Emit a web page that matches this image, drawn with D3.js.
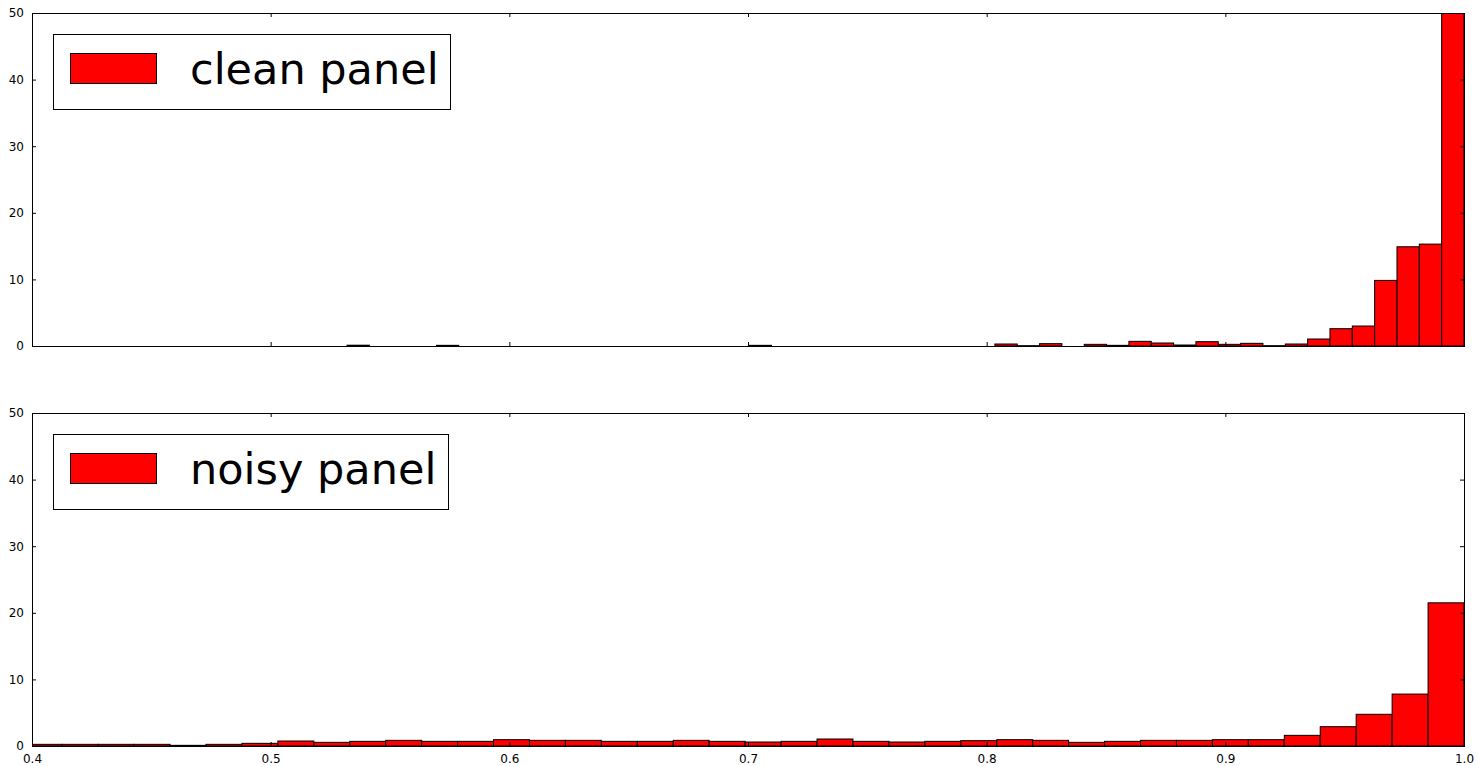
<!DOCTYPE html>
<html>
<head>
<meta charset="utf-8">
<script src="https://cdn.jsdelivr.net/npm/d3@7"></script>
<style>
  body { margin: 0; background: #fff; }
  svg { display: block; font-family: "DejaVu Sans", sans-serif; }
</style>
</head>
<body>
<svg id="chart" width="1479" height="766"></svg>
<script>
// ---- data ----
const xDomain = [0.4, 1.0];
const yDomain = [0, 50];
const xTicks = [0.4, 0.5, 0.6, 0.7, 0.8, 0.9, 1.0];
const yTicks = [0, 10, 20, 30, 40, 50];

// clean panel histogram: 50 bins from 0.532 to 1.0
const cleanStart = 0.532;
const cleanWidth = 0.00936;
const cleanValues = [
  0.12, 0, 0, 0, 0.1, 0, 0, 0, 0, 0,
  0, 0, 0, 0, 0, 0, 0, 0, 0.1, 0,
  0, 0, 0, 0, 0, 0, 0, 0, 0, 0.3,
  0.05, 0.35, 0, 0.25, 0.1, 0.7, 0.45, 0.15, 0.65, 0.25,
  0.4, 0.05, 0.3, 1.05, 2.6, 3.0, 9.85, 14.9, 15.3, 55
];

// noisy panel histogram: 40 visible bins ending at 1.0
const noisyStart = 0.3976;
const noisyWidth = 0.01506;
const noisyValues = [
  0.25, 0.25, 0.25, 0.25, 0.1, 0.25, 0.4, 0.75, 0.55, 0.7,
  0.85, 0.7, 0.7, 0.95, 0.85, 0.85, 0.7, 0.7, 0.85, 0.7,
  0.6, 0.7, 1.05, 0.7, 0.6, 0.7, 0.8, 0.95, 0.85, 0.55,
  0.7, 0.85, 0.85, 0.95, 0.95, 1.6, 2.9, 4.76, 7.8, 21.5
];

const panels = [
  { label: "clean panel", start: cleanStart, width: cleanWidth, values: cleanValues, top: 13, showX: false },
  { label: "noisy panel", start: noisyStart, width: noisyWidth, values: noisyValues, top: 413, showX: true }
];

// ---- layout ----
const left = 32, right = 1464, panelH = 333;
const svg = d3.select("#chart");
const x = d3.scaleLinear().domain(xDomain).range([left, right]);

panels.forEach((p, pi) => {
  const y = d3.scaleLinear().domain(yDomain).range([p.top + panelH, p.top]);
  const g = svg.append("g");
  const clipId = "clip" + pi;
  svg.append("clipPath").attr("id", clipId)
    .append("rect").attr("x", left).attr("y", p.top).attr("width", right - left).attr("height", panelH);

  const bins = p.values.map((v, i) => ({ x0: p.start + i * p.width, x1: p.start + (i + 1) * p.width, v }));
  g.append("g").attr("clip-path", `url(#${clipId})`)
    .selectAll("rect").data(bins.filter(d => d.v > 0)).join("rect")
    .attr("x", d => x(d.x0))
    .attr("width", d => x(d.x1) - x(d.x0))
    .attr("y", d => y(d.v))
    .attr("height", d => y(0) - y(d.v))
    .attr("fill", "#ff0000")
    .attr("stroke", "#000")
    .attr("stroke-width", 1);

  // frame
  g.append("rect").attr("x", left).attr("y", p.top).attr("width", right - left).attr("height", panelH)
    .attr("fill", "none").attr("stroke", "#000").attr("stroke-width", 1).attr("shape-rendering", "crispEdges");

  // axes with inward ticks
  const yl = g.append("g").attr("transform", `translate(${left},0)`)
    .call(d3.axisLeft(y).tickValues(yTicks).tickSizeInner(-4).tickSizeOuter(0).tickPadding(8).tickFormat(d3.format("d")));
  const yr = g.append("g").attr("transform", `translate(${right},0)`)
    .call(d3.axisRight(y).tickValues(yTicks).tickSizeInner(-4).tickSizeOuter(0).tickFormat(""));
  const xb = g.append("g").attr("transform", `translate(0,${p.top + panelH})`)
    .call(d3.axisBottom(x).tickValues(xTicks).tickSizeInner(-4).tickSizeOuter(0).tickPadding(8)
      .tickFormat(p.showX ? d3.format(".1f") : ""));
  const xt = g.append("g").attr("transform", `translate(0,${p.top})`)
    .call(d3.axisTop(x).tickValues(xTicks).tickSizeInner(-4).tickSizeOuter(0).tickFormat(""));
  [yl, yr, xb, xt].forEach(a => {
    a.select(".domain").remove();
    a.selectAll("text").attr("font-size", 12).attr("font-family", "DejaVu Sans, sans-serif").attr("fill", "#000");
    a.selectAll("line").attr("stroke", "#000");
  });

  // legend
  const lg = g.append("g");
  const box = lg.append("rect").attr("x", 53.5).attr("y", p.top + 21.5).attr("width", 396).attr("height", 75)
    .attr("fill", "#fff").attr("stroke", "#000").attr("stroke-width", 1);
  lg.append("rect").attr("x", 70.5).attr("y", p.top + 40.5).attr("width", 86).attr("height", 30)
    .attr("fill", "#ff0000").attr("stroke", "#000").attr("stroke-width", 1);
  const txt = lg.append("text").attr("x", 190).attr("y", p.top + 71)
    .attr("font-size", 43).attr("font-family", "DejaVu Sans, sans-serif").attr("fill", "#000")
    .text(p.label);
  const tw = txt.node().getComputedTextLength();
  box.attr("width", Math.round(190 + tw + 12 - 53.5));
});
</script>
</body>
</html>
